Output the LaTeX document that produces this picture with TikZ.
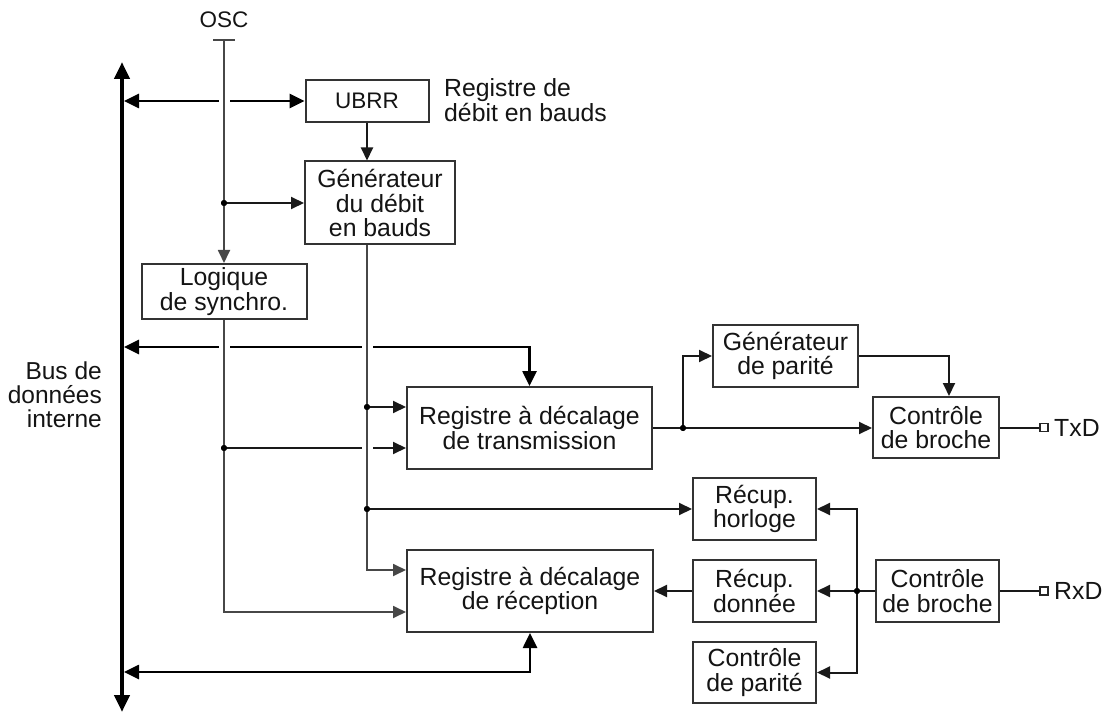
\documentclass[tikz,border=0pt]{standalone}
\usepackage{fontspec}
\setmainfont{Liberation Sans}
\usetikzlibrary{arrows.meta}
\begin{document}
\begin{tikzpicture}[x=1pt,y=-1pt,
  every node/.style={font=\fontsize{24.8}{24.5}\selectfont, text=black!92, inner sep=0pt},
  box/.style={draw=black!80, line width=2pt, align=center, fill=white},
  small/.style={font=\fontsize{22.5}{23}\selectfont},
  wire/.style={draw=black!90, line width=2pt},
  feed/.style={draw=black!72, line width=1.8pt},
  buswire/.style={draw=black, line width=2.6pt},
  tip/.style={-{Triangle[length=13pt,width=12pt]}},
  bustips/.style={{Triangle[length=15pt,width=14pt]}-{Triangle[length=15pt,width=14pt]}},
  dot/.style={circle, fill=black, minimum size=6pt},
  pin/.style={draw=black!85, line width=1.4pt, fill=white, minimum size=8pt},
]
\useasboundingbox (0,0) rectangle (1109,714);

% functional blocks
\node[box, small, minimum width=123pt, minimum height=42pt] (ubrr) at (367,101) {UBRR};
\node[anchor=west, align=left] (ubrrlbl) at (444,100) {Registre de\\débit en bauds};
\node[box, minimum width=150pt, minimum height=83pt] (gen) at (380,203) {Générateur\\du débit\\en bauds};
\node[box, minimum width=165pt, minimum height=55pt] (logic) at (224,291.5) {Logique\\de synchro.};
\node[box, minimum width=245pt, minimum height=82pt] (tx) at (529.5,428) {Registre à décalage\\de transmission};
\node[box, minimum width=145pt, minimum height=62pt] (par) at (785.5,356) {Générateur\\de parité};
\node[box, minimum width=126pt, minimum height=61pt] (txpin) at (936,427.5) {Contrôle\\de broche};
\node[box, minimum width=246pt, minimum height=82pt] (rx) at (530,591) {Registre à décalage\\de réception};
\node[box, minimum width=123pt, minimum height=62pt] (clk) at (754.5,509) {Récup.\\horloge};
\node[box, minimum width=123pt, minimum height=62pt] (dat) at (754.5,591) {Récup.\\donnée};
\node[box, minimum width=123pt, minimum height=61pt] (chk) at (754.5,672.5) {Contrôle\\de parité};
\node[box, minimum width=123pt, minimum height=62pt] (rxpin) at (937.5,591) {Contrôle\\de broche};

% labels and pins
\node[anchor=east, align=right, font=\fontsize{24.5}{24}\selectfont] (buslbl) at (102,395) {Bus de\\données\\interne};
\node[small] (osc) at (224,20) {OSC};
\node[pin] (txd) at (1044,427.5) {};
\node[anchor=west] (txdlbl) at (1054,427.5) {TxD};
\node[pin] (rxd) at (1044,591) {};
\node[anchor=west] (rxdlbl) at (1054,591) {RxD};

% internal data bus
\coordinate (bustop) at (122,62);
\coordinate (busbot) at (122,712);
\draw[line width=4.5pt, {Triangle[length=17pt,width=15pt]}-{Triangle[length=17pt,width=15pt]}] (bustop) -- (busbot);
\coordinate (b1) at (124,101);
\coordinate (b2) at (124,347);
\coordinate (b3) at (124,672);
\draw[buswire, bustips] (b1) -- (ubrr.west);
\draw[buswire, bustips] (b2) -| (tx.north);
\draw[buswire, bustips] (b3) -| (rx.south);

% junctions
\node[dot] (d1) at (224,203) {};
\node[dot] (d2) at (367,407) {};
\node[dot] (d3) at (367,509) {};
\node[dot] (d4) at (683,428) {};
\node[dot] (d5) at (224,448) {};
\node[dot] (d6) at (857,591) {};

% synchro output to the transmitter (crossed by the baud clock line)
\draw[wire, tip] (d5.center) -- ([yshift=-20pt]tx.west);

% gaps where the vertical lines cross
\foreach \p in {(224,101),(224,347),(367,347),(367,448)}
  \fill[white] \p +(-5.5,-3.5) rectangle +(5.5,3.5);

% oscillator input
\coordinate (oscpin) at (224,40);
\draw[feed] ([xshift=-11pt]oscpin) -- ([xshift=11pt]oscpin);
\draw[feed, tip] (oscpin) -- (logic.north);
\draw[wire, tip] (d1.center) -- (gen.west |- d1);

% baud rate generation
\draw[wire, tip] (ubrr.south) -- (ubrr.south |- gen.north);
\coordinate (gs) at (gen.south -| ubrr.south);
\draw[feed, tip] (gs) |- ([yshift=21pt]rx.west);
\draw[wire, tip] (d2.center) -- ([yshift=21pt]tx.west);
\draw[wire, tip] (d3.center) -- (clk.west);
\draw[feed, tip] (logic.south) |- ([yshift=-21pt]rx.west);

% transmitter path
\draw[wire] (tx.east) -- (d4.center);
\draw[wire, tip] (d4.center) -- (txpin.west |- d4);
\draw[wire, tip] (d4.center) |- (par.west);
\draw[wire, tip] (par.east) -| ([xshift=13pt]txpin.north);
\draw[wire] (txpin.east) -- (txd.west);

% receiver path
\draw[wire] (rxd.west) -- (rxpin.east);
\draw[wire] (rxpin.west) -- (d6.center);
\draw[wire, tip] (d6.center) -- (dat.east);
\draw[wire, tip] (d6.center) |- (clk.east);
\draw[wire, tip] (d6.center) |- (chk.east);
\draw[wire, tip] (dat.west) -- (rx.east);

% junction dots on top
\foreach \d in {d1,d2,d3,d4,d5,d6}
  \fill[black] (\d) circle (3pt);
\end{tikzpicture}
\end{document}
